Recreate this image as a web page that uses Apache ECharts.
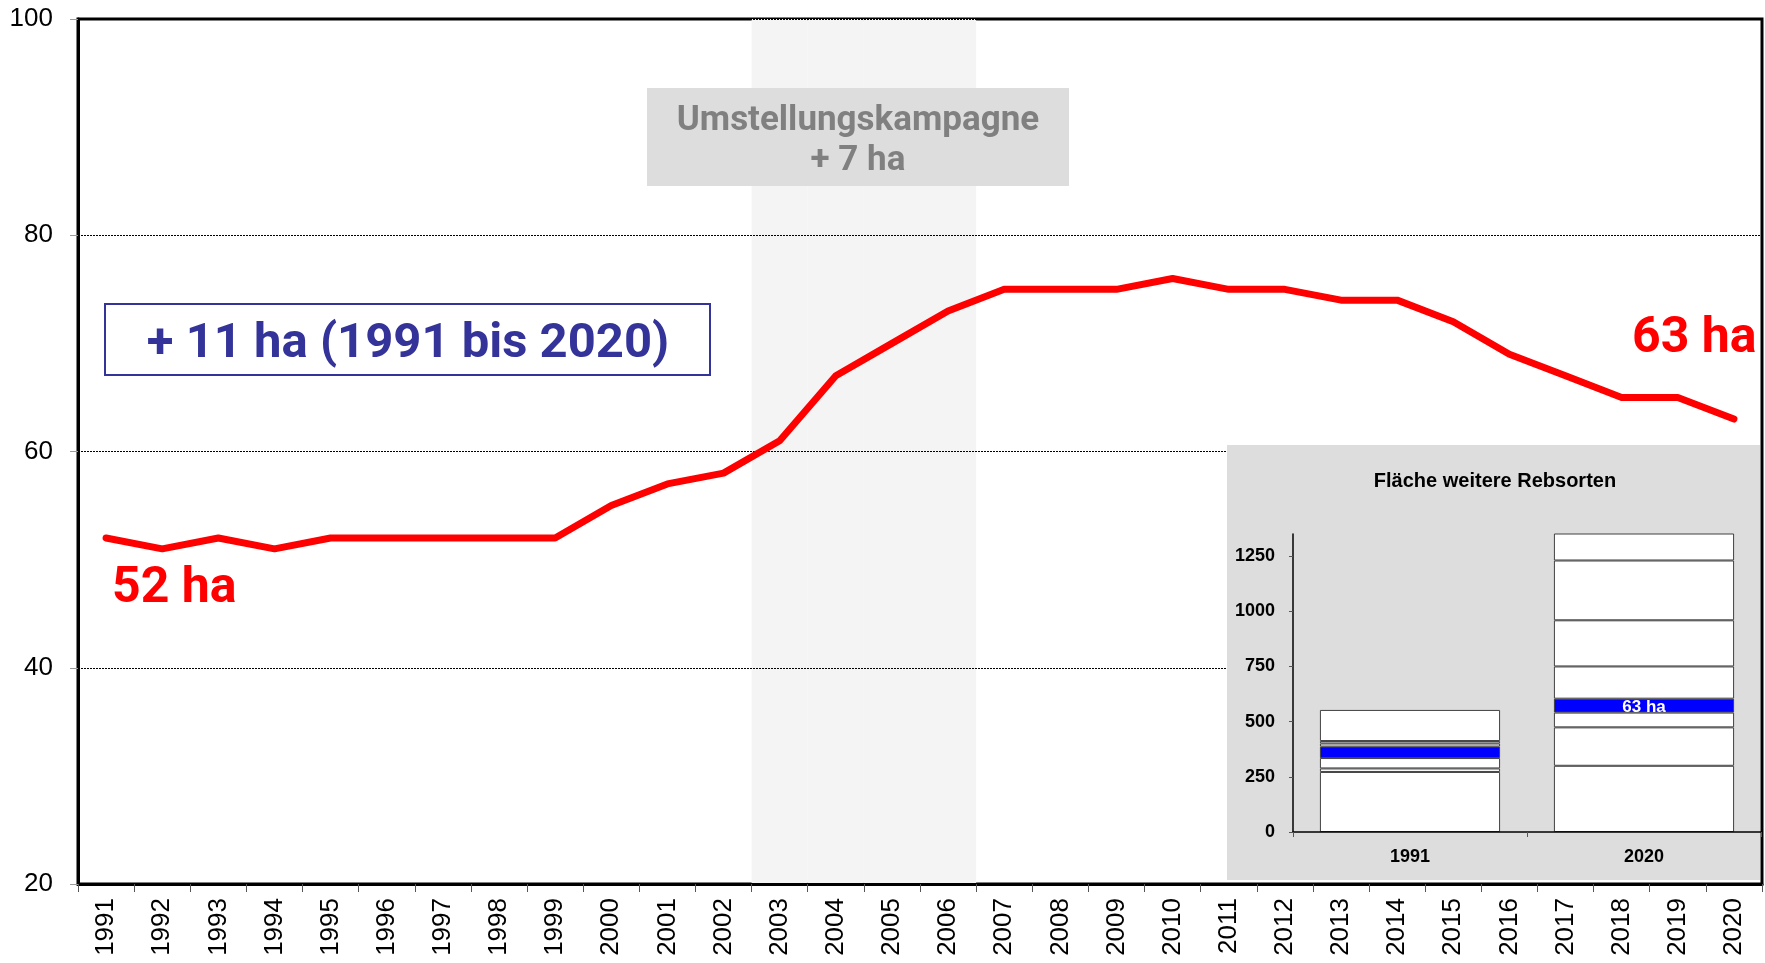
<!DOCTYPE html>
<html>
<head>
<meta charset="utf-8">
<script src="https://cdn.jsdelivr.net/npm/echarts@6/dist/echarts.min.js"></script>
<style>
  html, body { margin: 0; padding: 0; background: #fff; }
  #chart { width: 1765px; height: 963px; }
</style>
</head>
<body>
<div id="chart"></div>
<script>
    // Jahre und Fläche (ha)
    var years = ['1991','1992','1993','1994','1995','1996','1997','1998','1999','2000',
                 '2001','2002','2003','2004','2005','2006','2007','2008','2009','2010',
                 '2011','2012','2013','2014','2015','2016','2017','2018','2019','2020'];
    var flaeche = [52, 51, 52, 51, 52, 52, 52, 52, 52, 55,
                   57, 58, 61, 67, 70, 73, 75, 75, 75, 76,
                   75, 75, 74, 74, 72, 69, 67, 65, 65, 63];
    var yTicks = [20, 40, 60, 80, 100];
    var kampagne = ['2003', '2006'];

    // kleines Diagramm: Fläche weitere Rebsorten (gestapelt)
    var insetYears = ['1991', '2020'];
    var seg1 = [272, 300];
    var seg2 = [16, 174];
    var seg3 = [47, 67];
    var segBlau = [52, 63];
    var seg5 = [14, 146];
    var seg6 = [11, 209];
    var seg7 = [141, 271];
    var seg8 = ['-', 150];
    var insetTicks = [0, 250, 500, 750, 1000, 1250];

    var myChart = echarts.init(document.getElementById('chart'));

    // grauer Hintergrund für die Kampagnenjahre
    var band = years.map(function (y) {
        return (y >= kampagne[0] && y <= kampagne[1]) ? yTicks[yTicks.length - 1] : '-';
    });

    function seg(name, data, color) {
        return {
            name: name,
            type: 'bar',
            stack: 'rebsorten',
            xAxisIndex: 1,
            yAxisIndex: 1,
            barWidth: '77%',
            z: 4,
            data: data,
            itemStyle: { color: color || '#ffffff', borderColor: '#404040', borderWidth: 1 }
        };
    }

    var blau = seg('blau', segBlau, '#0000ff');
    blau.label = {
        show: true,
        position: 'inside',
        offset: [0, 2],
        color: '#fff',
        fontWeight: 'bold',
        fontSize: 17,
        fontFamily: 'Liberation Sans',
        formatter: function (p) { return p.dataIndex === 1 ? p.value + ' ha' : ''; }
    };

    option = {
        animation: false,
        backgroundColor: '#ffffff',
        grid: [
            { left: 78, right: 3, top: 19, bottom: 79, show: true, borderColor: '#000', borderWidth: 3, backgroundColor: 'transparent' },
            { left: 1293, top: 534, width: 468, height: 298 }
        ],
        xAxis: [
            {
                type: 'category',
                gridIndex: 0,
                data: years,
                boundaryGap: true,
                z: 1,
                axisLine: { lineStyle: { color: '#000', width: 3 } },
                axisTick: { show: true, length: 8, lineStyle: { color: '#555', width: 1 } },
                axisLabel: { rotate: 90, margin: 14, fontSize: 26, color: '#000', fontFamily: 'Liberation Sans' }
            },
            {
                type: 'category',
                gridIndex: 1,
                data: insetYears,
                z: 5,
                axisLine: { lineStyle: { color: '#000', width: 1.5 } },
                axisTick: { show: true, length: 5, lineStyle: { color: '#555' } },
                axisLabel: { margin: 16, fontSize: 18, fontWeight: 'bold', color: '#000', fontFamily: 'Liberation Sans' }
            }
        ],
        yAxis: [
            {
                type: 'value',
                gridIndex: 0,
                min: yTicks[0],
                max: yTicks[yTicks.length - 1],
                interval: 20,
                z: 1,
                axisLine: { show: true, lineStyle: { color: '#000', width: 3 } },
                axisTick: { show: true, length: 8, lineStyle: { color: '#999' } },
                axisLabel: { margin: 25, fontSize: 26, color: '#000', fontFamily: 'Liberation Sans' },
                splitLine: { show: true, lineStyle: { color: '#000', width: 1, type: [2, 1] } }
            },
            {
                type: 'value',
                gridIndex: 1,
                min: insetTicks[0],
                max: 1350,
                interval: 250,
                z: 5,
                axisLine: { show: true, lineStyle: { color: '#000', width: 1.5 } },
                axisTick: { show: true, length: 4, lineStyle: { color: '#555' } },
                axisLabel: {
                    margin: 18, fontSize: 18, fontWeight: 'bold', color: '#000',
                    fontFamily: 'Liberation Sans', showMaxLabel: false,
                    formatter: function (v) { return String(v); }
                },
                splitLine: { show: false }
            }
        ],
        series: [
            {
                name: 'Kampagne',
                type: 'bar',
                data: band,
                barWidth: '100%',
                silent: true,
                z: 0,
                itemStyle: { color: '#f4f4f4' }
            },
            {
                name: 'Fläche',
                type: 'line',
                data: flaeche,
                symbol: 'none',
                z: 3,
                lineStyle: { color: '#ff0000', width: 7, cap: 'round', join: 'round' }
            },
            seg('s1', seg1),
            seg('s2', seg2),
            seg('s3', seg3),
            blau,
            seg('s5', seg5),
            seg('s6', seg6),
            seg('s7', seg7),
            seg('s8', seg8)
        ],
        graphic: [
            // Kasten Umstellungskampagne
            { type: 'rect', z: 10, shape: { x: 647, y: 88, width: 422, height: 98 }, style: { fill: '#dddddd' } },
            { type: 'text', z: 11, style: { x: 858, y: 121, text: 'Umstellungskampagne', fill: '#808080', font: 'bold 35px Roboto', textAlign: 'center', textVerticalAlign: 'middle' } },
            { type: 'text', z: 11, style: { x: 858, y: 161, text: '+ 7 ha', fill: '#808080', font: 'bold 35px Roboto', textAlign: 'center', textVerticalAlign: 'middle' } },
            // Kasten + 11 ha
            { type: 'rect', z: 10, shape: { x: 105, y: 304, width: 605, height: 71 }, style: { fill: '#fff', stroke: '#333399', lineWidth: 2 } },
            { type: 'text', z: 11, style: { x: 408, y: 345, text: '+ 11 ha (1991 bis 2020)', fill: '#333399', font: 'bold 49px Roboto', textAlign: 'center', textVerticalAlign: 'middle' } },
            // Beschriftung Anfang / Ende
            { type: 'text', z: 11, style: { x: 112, y: 589, text: '52 ha', fill: '#ff0000', font: 'bold 50px Roboto', textAlign: 'left', textVerticalAlign: 'middle' } },
            { type: 'text', z: 11, style: { x: 1632, y: 339, text: '63 ha', fill: '#ff0000', font: 'bold 50px Roboto', textAlign: 'left', textVerticalAlign: 'middle' } },
            // Hintergrund kleines Diagramm
            { type: 'rect', z: 2, shape: { x: 1227, y: 445, width: 533, height: 435 }, style: { fill: '#dddddd' } },
            { type: 'text', z: 11, style: { x: 1495, y: 481, text: 'Fläche weitere Rebsorten', fill: '#000', font: 'bold 20px "Liberation Sans"', textAlign: 'center', textVerticalAlign: 'middle' } }
        ]
    };

    myChart.setOption(option);
</script>
</body>
</html>
